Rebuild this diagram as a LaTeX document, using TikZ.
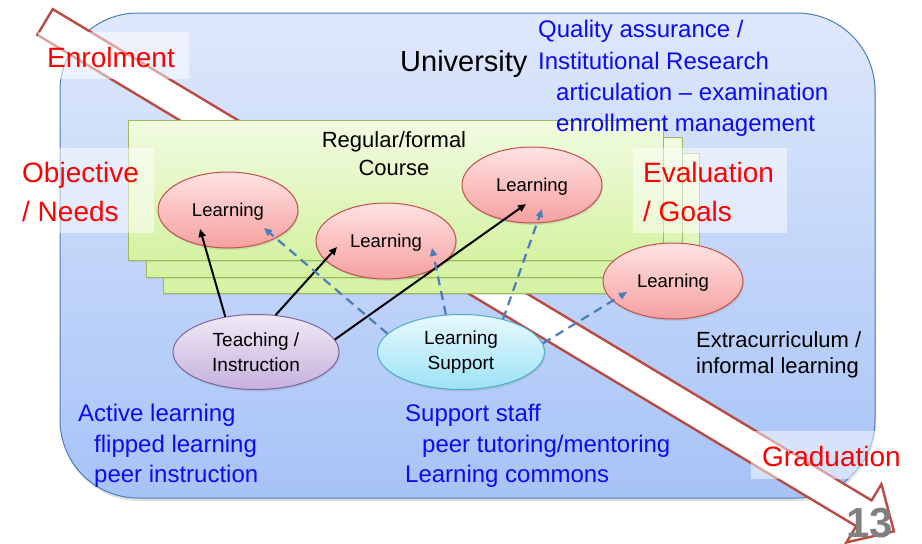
\documentclass[tikz,border=0pt]{standalone}
\usepackage{fontspec}
\setmainfont{Liberation Sans}
\usetikzlibrary{arrows.meta,shapes.geometric,shadows,calc}
\definecolor{uniborder}{HTML}{4A7EBB}
\definecolor{unitop}{HTML}{DFE8FB}
\definecolor{unibot}{HTML}{A6C3F7}
\definecolor{grborder}{HTML}{9BBB59}
\definecolor{grtop}{HTML}{F1FBE2}
\definecolor{grbot}{HTML}{D5F2A2}
\definecolor{rdborder}{HTML}{C0504D}
\definecolor{rdtop}{HTML}{FFE2E2}
\definecolor{rdbot}{HTML}{F5A0A0}
\definecolor{puborder}{HTML}{8064A2}
\definecolor{putop}{HTML}{F0E9F6}
\definecolor{pubot}{HTML}{C6B1DC}
\definecolor{cyborder}{HTML}{4BACC6}
\definecolor{cytop}{HTML}{E8F9FD}
\definecolor{cybot}{HTML}{9CE2F5}
\definecolor{arrowred}{HTML}{BA4A44}
\definecolor{dashblue}{HTML}{4A7EBB}
\definecolor{txtblue}{HTML}{0A0AF5}
\definecolor{txtred}{HTML}{FF0000}
\begin{document}
\begin{tikzpicture}[x=1pt,y=-1pt,
  unibox/.style={draw=uniborder,line width=1pt,top color=unitop,bottom color=unibot,rounded corners=78pt,
    drop shadow={opacity=0.25,shadow xshift=1pt,shadow yshift=-3pt}},
  coursebox/.style={draw=grborder,line width=1pt,top color=grtop,bottom color=grbot,
    drop shadow={opacity=0.2,shadow xshift=1pt,shadow yshift=-2pt}},
  bigarrow/.style={draw=arrowred,line width=2.4pt,fill=white,line join=miter},
  ell/.style={ellipse,inner sep=0pt,line width=1pt,align=center,
    drop shadow={opacity=0.2,shadow xshift=1pt,shadow yshift=-2pt}},
  learn/.style={ell,minimum width=140pt,minimum height=76pt,draw=rdborder,top color=rdtop,bottom color=rdbot,
    text height=13.5pt,text depth=0pt,font=\fontsize{18.5}{22}\selectfont},
  teach/.style={ell,minimum width=166pt,minimum height=75pt,draw=puborder,top color=putop,bottom color=pubot,
    font=\fontsize{19}{25}\selectfont},
  supp/.style={ell,minimum width=167pt,minimum height=75pt,draw=cyborder,top color=cytop,bottom color=cybot,
    font=\fontsize{19}{25}\selectfont},
  solidarr/.style={line width=2pt,black,-{Triangle[length=8pt,width=7pt]}},
  dasharr/.style={line width=2.2pt,dashblue,dash pattern=on 9pt off 6pt,-{Triangle[length=8pt,width=7pt]}},
  lblbox/.style={fill=white,fill opacity=0.5,draw=none},
  redlbl/.style={anchor=base west,inner sep=0pt,text=txtred,font=\fontsize{28}{34}\selectfont},
  bluelbl/.style={anchor=base west,inner sep=0pt,text=txtblue,font=\fontsize{24}{30}\selectfont},
  blacklbl/.style={anchor=base west,inner sep=0pt,text=black,font=\fontsize{22}{27}\selectfont},
]
\useasboundingbox (0,0) rectangle (922,544);
% University box
\path[unibox] (60,13) rectangle (875,498);
% big white arrow
\begin{scope}[shift={(45,22)},rotate=-30.96]
\draw[bigarrow] (0,-15) -- (955,-15) -- (955,-34) -- (990,0) -- (955,34) -- (955,15) -- (0,15) -- cycle;
\end{scope}
% course boxes
\path[coursebox] (163,153) rectangle (699,293);
\path[coursebox] (146,137) rectangle (682,277);
\path[coursebox] (128,120) rectangle (663,260);
% ellipses
\node[learn] (L1) at (228,210) {Learning};
\node[learn] (L2) at (386,241) {Learning};
\node[learn] (L3) at (532,185) {Learning};
\node[learn] (L4) at (673,281) {Learning};
\node[teach] (T) at (256,352) {Teaching /\\Instruction};
\node[supp] (S) at (461,352) {Learning\\Support};
% connectors
\draw[solidarr] (T.131) -- ($(L1)+(-28,19)$);
\draw[solidarr] (T.62) -- ($(L2)+(-49,6)$);
\draw[solidarr] (T.9) -- ($(L3)+(-6,19)$);
\draw[dasharr] (S.166) -- ($(L1)+(36,18)$);
\draw[dasharr] (S.112) -- ($(L2)+(46,7)$);
\draw[dasharr] (S.38) -- ($(L3)+(10,24)$);
\draw[dasharr] (S.6) -- ($(L4)+(-46,11)$);
% label boxes
\path[lblbox] (38,32) rectangle (189,79);
\path[lblbox] (15,148) rectangle (154,233);
\path[lblbox] (633,148) rectangle (787,233);
\path[lblbox] (751,431) rectangle (912,479);
% texts
\node[redlbl] (enrol) at (47,67) {Enrolment};
\node[redlbl] (obj1) at (22,182) {Objective};
\node[redlbl] (obj2) at (22,221) {/ Needs};
\node[redlbl] (eva1) at (643,182) {Evaluation};
\node[redlbl] (eva2) at (643,221) {/ Goals};
\node[redlbl] (grad) at (762,466) {Graduation};
\node[anchor=base west,inner sep=0pt,font=\fontsize{29}{34}\selectfont] (univ) at (400,71) {University};
\node[bluelbl] (qa1) at (538,37) {Quality assurance /};
\node[bluelbl] (qa2) at (538,69) {Institutional Research};
\node[bluelbl] (qa3) at (556,100) {articulation – examination};
\node[bluelbl] (qa4) at (556,131) {enrollment management};
\node[anchor=base,inner sep=0pt,font=\fontsize{22}{27}\selectfont] (reg1) at (394,147) {Regular/formal};
\node[anchor=base,inner sep=0pt,font=\fontsize{22}{27}\selectfont] (reg2) at (394,175) {Course};
\node[blacklbl] (ex1) at (696,347) {Extracurriculum /};
\node[blacklbl] (ex2) at (696,373) {informal learning};
\node[bluelbl] (al1) at (78,421) {Active learning};
\node[bluelbl] (al2) at (94,452) {flipped learning};
\node[bluelbl] (al3) at (94,482) {peer instruction};
\node[bluelbl] (ss1) at (405,421) {Support staff};
\node[bluelbl] (ss2) at (422,452) {peer tutoring/mentoring};
\node[bluelbl] (ss3) at (405,482) {Learning commons};
\node[anchor=base west,inner sep=0pt,text=black!50,font=\bfseries\fontsize{42}{50}\selectfont] (pg) at (846,537) {13};
\end{tikzpicture}
\end{document}
